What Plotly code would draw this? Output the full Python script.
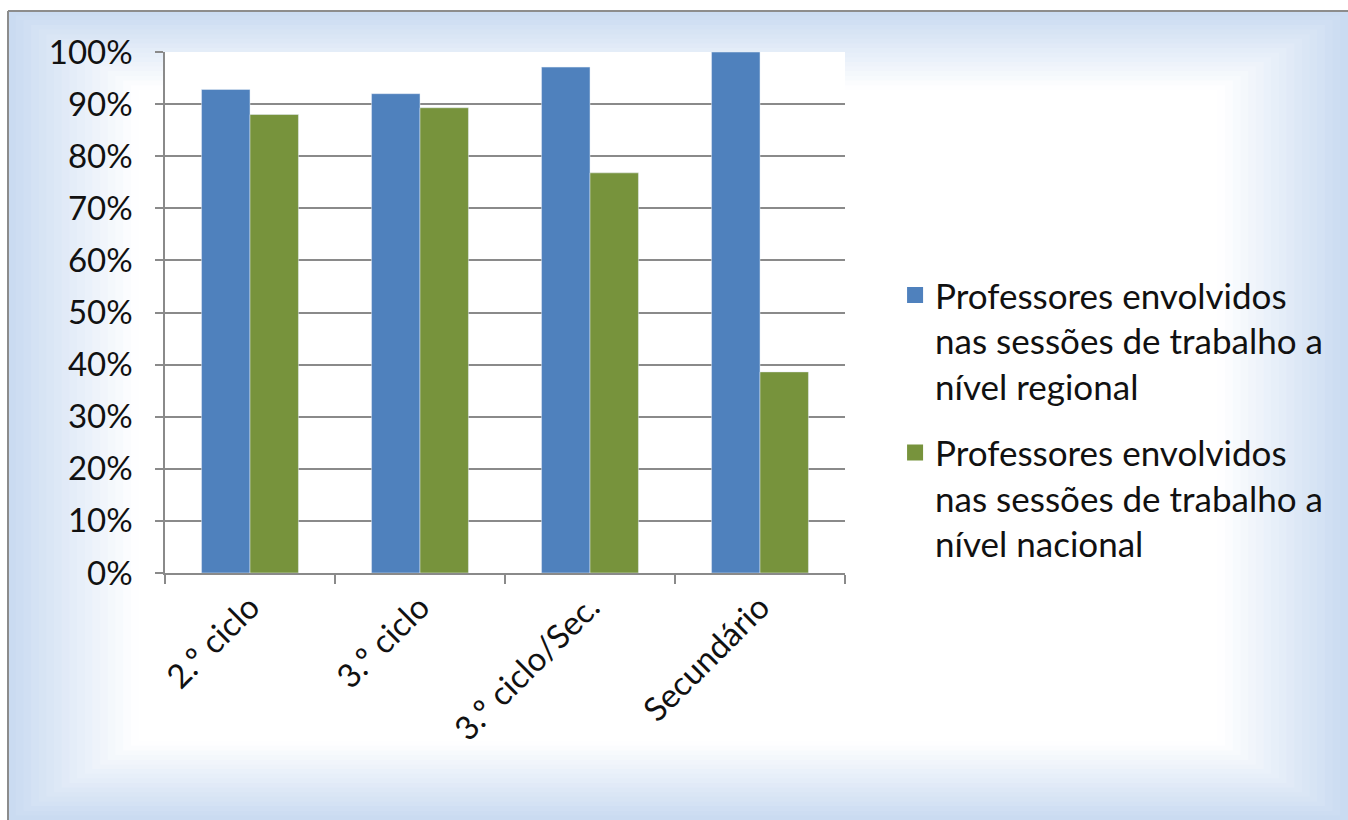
import plotly.graph_objects as go

categories = ["2.º ciclo", "3.º ciclo", "3.º ciclo/Sec.", "Secundário"]
regional = [0.928, 0.920, 0.971, 1.000]
nacional = [0.880, 0.893, 0.768, 0.386]
series_names = [
    "Professores envolvidos<br>nas sessões de trabalho a<br>nível regional",
    "Professores envolvidos<br>nas sessões de trabalho a<br>nível nacional",
]
y_ticks = [0, 0.1, 0.2, 0.3, 0.4, 0.5, 0.6, 0.7, 0.8, 0.9, 1.0]

W, H = 1348, 820
FONT = "Lato, Carlito, Calibri, sans-serif"
BLUE = "#4F81BD"
GREEN = "#77933C"
GRID = "#8a8a8a"
TXT = "#111111"

fig = go.Figure()
fig.add_trace(go.Bar(x=categories, y=regional, name=series_names[0],
                     marker_color=BLUE, showlegend=False))
fig.add_trace(go.Bar(x=categories, y=nacional, name=series_names[1],
                     marker_color=GREEN, showlegend=False))
# legend entries (square keys like the original)
for nm, col, grp in [(series_names[0], BLUE, "a"), (series_names[1], GREEN, "b")]:
    fig.add_trace(go.Scatter(x=[None], y=[None], mode="markers", name=nm,
                             marker=dict(symbol="square", size=16, color=col),
                             legendgroup=grp, hoverinfo="skip"))

# plot area in pixel terms
px0, px1 = 165, 845
py_top, py_bot = 52, 573
xdom = [px0 / W, px1 / W]
ydom = [1 - py_bot / H, 1 - py_top / H]

# gradient background (decorative)
shapes = []
bx0, by0 = 8 / W, 1 - 11 / H
edge = (202, 219, 241)
N = 48
for i in range(N):
    f = i / N * 0.5
    t = min(1.0, f / 0.17)
    c = tuple(int(round(e + (255 - e) * t)) for e in edge)
    x0 = bx0 + (1 - bx0) * f * 0.55
    x1 = 1 - (1 - bx0) * f * 0.55
    y0 = 0 + by0 * f * 0.55
    y1 = by0 - by0 * f * 0.55
    shapes.append(dict(type="rect", xref="paper", yref="paper", x0=x0, x1=x1,
                       y0=y0, y1=y1, fillcolor="rgb(%d,%d,%d)" % c,
                       line=dict(width=0), layer="below"))
shapes.append(dict(type="rect", xref="paper", yref="paper", x0=xdom[0], x1=xdom[1],
                   y0=ydom[0], y1=ydom[1], fillcolor="white", line=dict(width=0),
                   layer="below"))
shapes.append(dict(type="line", xref="paper", yref="paper", x0=bx0, x1=1, y0=by0, y1=by0,
                   line=dict(color="#8c8c8c", width=2)))
shapes.append(dict(type="line", xref="paper", yref="paper", x0=bx0, x1=bx0, y0=0, y1=by0,
                   line=dict(color="#8c8c8c", width=2)))

fig.update_layout(
    width=W, height=H,
    autosize=False,
    margin=dict(l=0, r=0, t=0, b=0, pad=0, autoexpand=False),
    paper_bgcolor="white",
    plot_bgcolor="rgba(0,0,0,0)",
    barmode="group",
    bargap=0.43,
    bargroupgap=0,
    font=dict(family=FONT, size=34, color=TXT),
    shapes=shapes,
    showlegend=True,
    legend=dict(x=0.664, y=0.676, xanchor="left", yanchor="top",
                font=dict(family=FONT, size=35, color=TXT),
                bgcolor="rgba(0,0,0,0)", tracegroupgap=18, traceorder="grouped",
                valign="top", itemwidth=30),
    xaxis=dict(domain=xdom, showline=True, linecolor=GRID, linewidth=1.5,
               ticks="outside", tickson="boundaries", ticklen=9, tickcolor=GRID,
               tickwidth=1.5, tickangle=-45, showgrid=False, automargin=False,
               tickfont=dict(family=FONT, size=33, color=TXT)),
    yaxis=dict(domain=ydom, range=[0, 1], tickvals=y_ticks, tickformat=".0%",
               showline=True, linecolor=GRID, linewidth=1.5, ticks="outside",
               ticklen=8, tickcolor=GRID, tickwidth=1.5, showgrid=True,
               gridcolor=GRID, gridwidth=1.5, zeroline=False, automargin=False,
               ticklabelstandoff=16,
               tickfont=dict(family=FONT, size=33, color=TXT)),
)

fig.write_html("out.html", config={"displayModeBar": False},
               post_script="document.body.style.margin='0';document.body.style.overflow='hidden';")
